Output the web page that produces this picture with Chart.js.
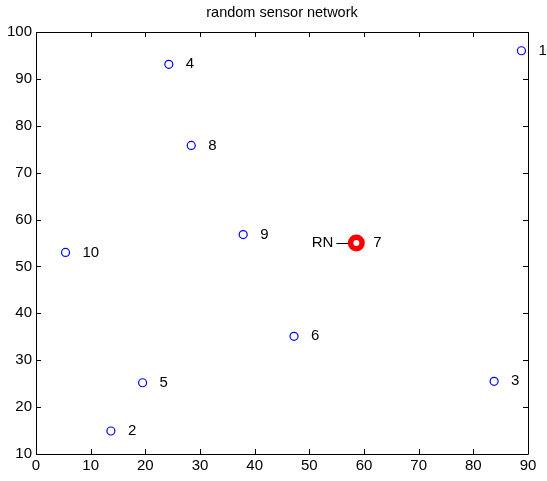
<!DOCTYPE html>
<html>
<head>
<meta charset="utf-8">
<script src="https://cdn.jsdelivr.net/npm/chart.js@4/dist/chart.umd.min.js"></script>
<style>
html,body{margin:0;padding:0;background:#fff;}
#c{display:block;}
</style>
</head>
<body>
<canvas id="c" width="547" height="481" aria-label="random sensor network"></canvas>
<script>
const titleText = 'random sensor network';
const nodeLabels = ['1','2','3','4','5','6','7','8','9','10'];
const nodeX = [88.8, 13.7, 83.8, 24.3, 19.5, 47.2, 58.6, 28.4, 37.9, 5.4];
const nodeY = [96.0, 14.9, 25.5, 93.1, 25.2, 35.1, 55.0, 75.8, 56.8, 53.0];
const rnIndex = 6;
const rnText = 'RN';
const xTicks = [0,10,20,30,40,50,60,70,80,90];
const yTicks = [10,20,30,40,50,60,70,80,90,100];

const FONT = '"Liberation Sans", Arial, sans-serif';

const boxPlugin = {
  id: 'boxTicks',
  afterDraw(chart) {
    const ctx = chart.ctx;
    const a = chart.chartArea;
    const xs = chart.scales.x, ys = chart.scales.y;
    ctx.save();
    // title centred over the plot box
    ctx.fillStyle = '#000';
    ctx.font = '14.5px ' + FONT;
    ctx.textAlign = 'center';
    ctx.textBaseline = 'middle';
    ctx.fillText(titleText, (a.left + a.right) / 2, 13);
    ctx.strokeStyle = '#000';
    ctx.lineWidth = 1;
    ctx.beginPath();
    ctx.rect(Math.round(a.left)+0.5, Math.round(a.top)+0.5, Math.round(a.right-a.left), Math.round(a.bottom-a.top));
    ctx.stroke();
    const L = 5;
    ctx.beginPath();
    xTicks.forEach(v => {
      const px = Math.round(xs.getPixelForValue(v)) + 0.5;
      ctx.moveTo(px, a.bottom); ctx.lineTo(px, a.bottom - L);
      ctx.moveTo(px, a.top); ctx.lineTo(px, a.top + L);
    });
    yTicks.forEach(v => {
      const py = Math.round(ys.getPixelForValue(v)) + 0.5;
      ctx.moveTo(a.left, py); ctx.lineTo(a.left + L, py);
      ctx.moveTo(a.right, py); ctx.lineTo(a.right - L, py);
    });
    ctx.stroke();
    ctx.restore();
  },
  afterDatasetsDraw(chart) {
    const ctx = chart.ctx;
    const meta = chart.getDatasetMeta(0);
    ctx.save();
    ctx.fillStyle = '#000';
    ctx.font = '15px ' + FONT;
    ctx.textBaseline = 'middle';
    ctx.textAlign = 'left';
    meta.data.forEach((pt, i) => {
      ctx.fillText(nodeLabels[i], pt.x + 17, pt.y);
    });
    const rp = meta.data[rnIndex];
    ctx.textAlign = 'right';
    ctx.fillText(rnText, rp.x - 23, rp.y);
    ctx.strokeStyle = '#000';
    ctx.lineWidth = 1;
    ctx.beginPath();
    ctx.moveTo(rp.x - 20, Math.round(rp.y) + 0.5);
    ctx.lineTo(rp.x - 8, Math.round(rp.y) + 0.5);
    ctx.stroke();
    ctx.restore();
  }
};

const pts = nodeX.map((x, i) => ({x: x, y: nodeY[i]}));

new Chart(document.getElementById('c'), {
  type: 'scatter',
  data: {
    datasets: [
      {
        data: pts,
        pointStyle: 'circle',
        pointRadius: 4,
        pointBorderWidth: 1.2,
        borderColor: '#0000ff',
        backgroundColor: 'rgba(0,0,0,0)',
        order: 2
      },
      {
        data: [{x: nodeX[rnIndex], y: nodeY[rnIndex]}],
        pointStyle: 'circle',
        pointRadius: 5.75,
        pointBorderWidth: 5.5,
        borderColor: '#ff0000',
        backgroundColor: '#ffffff',
        order: 1
      }
    ]
  },
  options: {
    responsive: false,
    animation: false,
    devicePixelRatio: 1,
    layout: { padding: { left: 0, right: 19, top: 32, bottom: 0 } },
    plugins: {
      legend: { display: false },
      tooltip: { enabled: false },
      title: { display: false }
    },
    scales: {
      x: {
        type: 'linear',
        min: 0, max: 90,
        afterBuildTicks(s) { s.ticks = xTicks.map(v => ({value: v})); },
        afterFit(s) { s.height = 27; },
        grid: { display: false, drawTicks: false },
        border: { display: false },
        ticks: { color: '#000', padding: 3, font: { family: FONT, size: 15 }, maxRotation: 0, autoSkip: false }
      },
      y: {
        type: 'linear',
        min: 10, max: 100,
        afterBuildTicks(s) { s.ticks = yTicks.map(v => ({value: v})); },
        afterFit(s) { s.width = 36; },
        grid: { display: false, drawTicks: false },
        border: { display: false },
        ticks: { color: '#000', padding: 4, font: { family: FONT, size: 15 }, autoSkip: false }
      }
    }
  },
  plugins: [boxPlugin]
});
</script>
</body>
</html>
